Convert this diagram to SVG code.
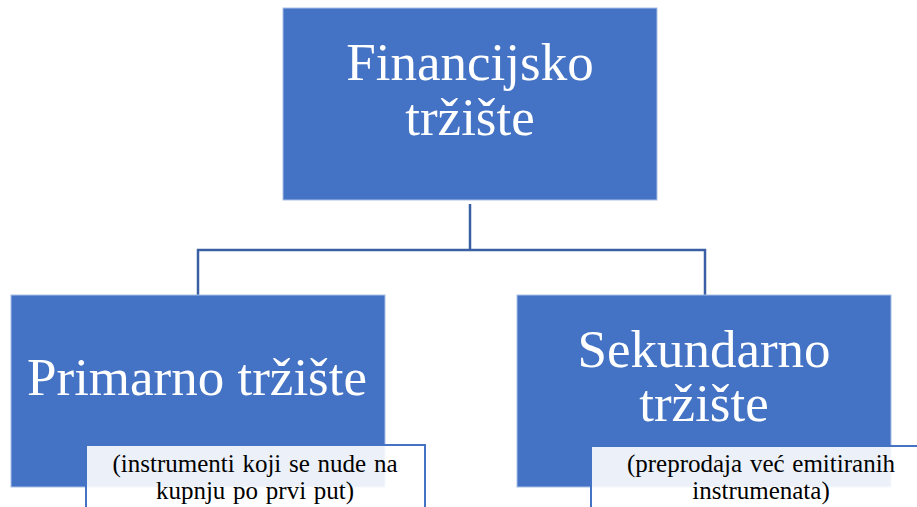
<svg xmlns="http://www.w3.org/2000/svg" width="917" height="507" viewBox="0 0 917 507">
<style>
.box{fill:#4472C4;stroke:#A9C0E6;stroke-width:1}
.big{font-family:"Liberation Serif",serif;font-size:53px;fill:#FFFFFF;text-anchor:middle}
.note{fill:#FFFFFF;fill-opacity:0.9;stroke:#4472C4;stroke-width:2}
.small{font-family:"Liberation Serif",serif;font-size:25px;fill:#000000;text-anchor:middle;word-spacing:1.5px}
.conn{fill:none;stroke:#3A5FA5;stroke-width:2.5}
</style>
<g id="connectors">
<path class="conn" d="M470 204 V250 M198 295 V250 H705 V295"/>
</g>
<g id="node-financijsko">
<rect class="box" x="283" y="8" width="374" height="192"/>
<text class="big" x="470" y="80">Financijsko</text>
<text class="big" x="470" y="135">tržište</text>
</g>
<g id="node-primarno">
<rect class="box" x="11" y="295" width="374" height="192"/>
<text class="big" x="197" y="395">Primarno tržište</text>
</g>
<g id="node-sekundarno">
<rect class="box" x="517" y="295" width="374" height="192"/>
<text class="big" x="704" y="367">Sekundarno</text>
<text class="big" x="704" y="421">tržište</text>
</g>
<g id="note-primarno">
<rect class="note" x="86" y="445" width="339" height="80"/>
<text class="small" x="255" y="472">(instrumenti koji se nude na</text>
<text class="small" x="255" y="499">kupnju po prvi put)</text>
</g>
<g id="note-sekundarno">
<rect class="note" x="591" y="446" width="340" height="80"/>
<text class="small" x="761" y="472">(preprodaja već emitiranih</text>
<text class="small" x="761" y="499">instrumenata)</text>
</g>
</svg>
